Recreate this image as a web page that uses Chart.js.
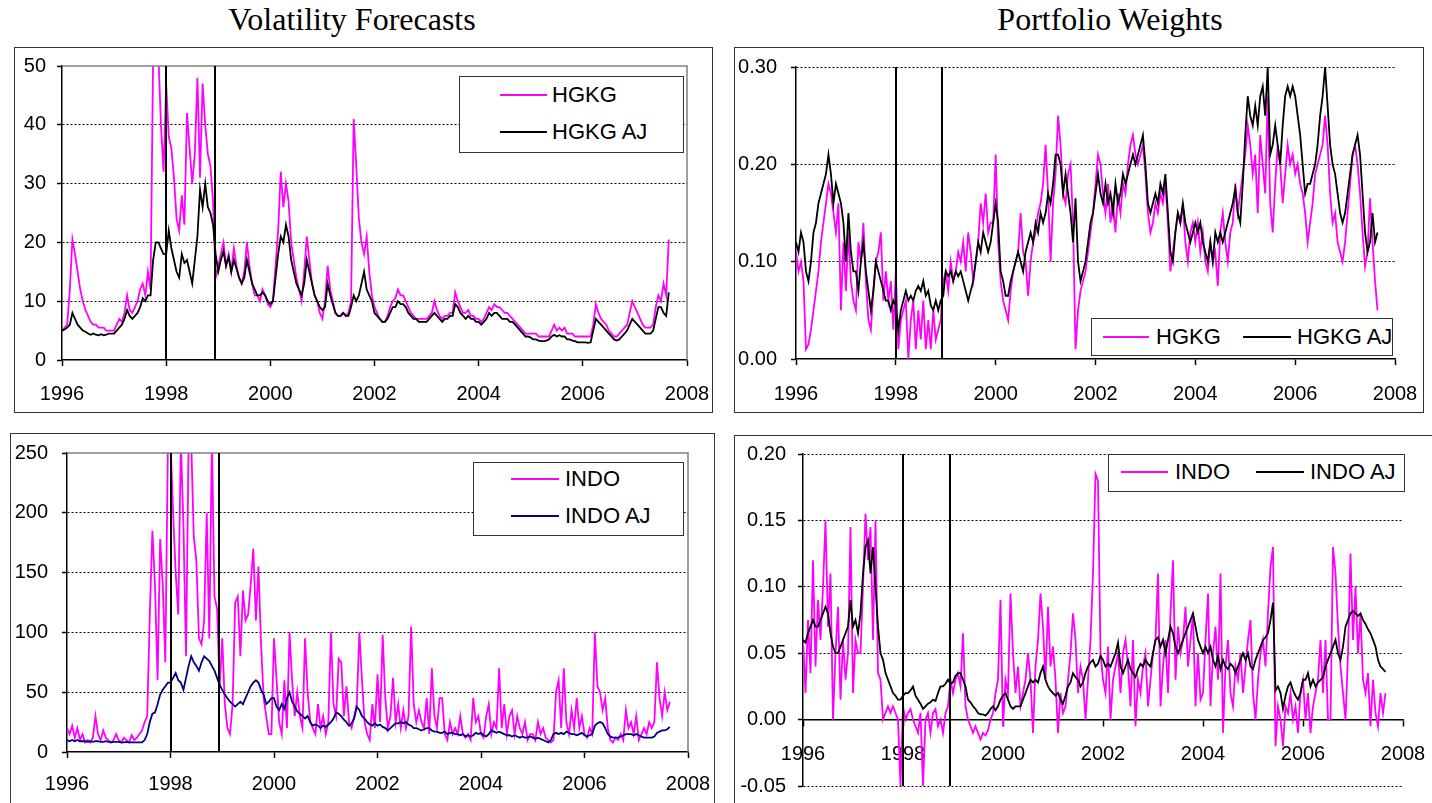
<!DOCTYPE html>
<html><head><meta charset="utf-8">
<script src="https://cdn.jsdelivr.net/npm/chart.js@4.4.0/dist/chart.umd.min.js"></script>
<style>
body{margin:0;width:1432px;height:803px;background:#fff;position:relative;overflow:hidden;font-family:"Liberation Sans",Arial,sans-serif}
.title{position:absolute;font-family:"Liberation Serif","Times New Roman",serif;font-size:32px;line-height:1;color:#000;top:3px;white-space:nowrap;transform:translateX(-50%)}
.box{position:absolute;border:1.5px solid #333;box-sizing:border-box}
canvas{position:absolute}
.legend{position:absolute;border:1.5px solid #333;background:#fff;box-sizing:border-box;z-index:5}
.item{position:absolute;font-size:22px;line-height:1;white-space:nowrap;color:#000;z-index:6}
.swatch{position:absolute;height:0;z-index:6}
</style></head>
<body>
<div class="title" style="left:352px">Volatility Forecasts</div>
<div class="title" style="left:1110px">Portfolio Weights</div>
<script>
// ---- data: one value every 0.05 year, starting 1996.00 ----
const start = 1996, step = 0.05;
const xTickYears = [1996, 1998, 2000, 2002, 2004, 2006, 2008];
const volHgkgTicks = [0, 10, 20, 30, 40, 50];
const wHgkgTicks = [0, 0.1, 0.2, 0.3];
const volIndoTicks = [0, 50, 100, 150, 200, 250];
const wIndoTicks = [-0.05, 0, 0.05, 0.1, 0.15, 0.2];
const breakDates = [1998.0, 1998.93];

const hgkgVol = [
 5,5.5,6,12,20.5,18,15,12,10,8.5,7.5,6.5,6,6,5.5,5.5,5.5,5,5,5,
 5,6,7,6.5,8,11,8.5,8,9,10,12,13,11,15,12,52,52,52,40,32,
 47,38,36,31,24,22,28,23,42,36,30,35,48,31,47,40,35,33,27,14,
 16,18,20,16,18,15,19,16,14,13,15,20,16,13,11,11,10,12,11,9.5,
 9,10,16,22,32,26,30,27,20,17,14,12,10,15,21,17,13,11,10,8,
 7,10,16,12,10,8,7.5,7.5,8,7.5,8,10,41,33,24,20,18,21,15,11,
 9,8,7,6.5,6.5,7.5,9,10,10.5,12,11,11,10,9,8,7.5,7,7,7,7,
 7,7.5,8,10,8.5,7.5,7,7.5,7.5,8,8,11.5,10,9,8,8,8.5,7.5,7.5,7,
 7,6.5,7,8,9,8.5,9.5,9,9,8.5,8,8,7.5,7,6.5,6,5.5,5,4.5,4.5,
 4.5,4.5,4.5,4,4,4,4,4,5,6,5,5.5,5,5.5,4.5,4.5,4.5,4,4,4,
 4,4,4,4,6,9.5,8,7,6.5,6,5,4.5,4,4,4.5,5,5.5,6,8,10,
 9,8,7,6,5.5,5.5,5.5,6,9,11,10,13,11,20.5
];
const hgkgAjVol = [
 5,5.2,5.5,6,8,7,6,5.5,5,4.8,4.5,4.3,4.5,4.3,4.2,4.4,4.2,4.3,4.5,4.5,
 4.5,5,5.5,6,7,8.5,7.5,7,7.5,8,9,10.5,10,11,11,17,20,20,19,18,
 18,22,19,17,15,14,18,16.5,17,15,13,17,21,29,26,30,26,25,23,18,
 15,17,18.5,16,17.5,15,17,15.5,14,13,14,17,15,13,12,11,11,11.5,11,10,
 9.5,10,14,18,21,20,23,21,17,15,13,12,11,13,17,15,13,11,10,9,
 8.5,9,13,11,9.5,8,7.5,7.5,8,7.5,7.5,9,11,10,11,13,15,12,11,10,
 8,7.5,7,6.5,6.5,7,8,9,9,10,9.5,9.5,9,8,7.5,7,7,6.5,6.5,6.5,
 6.5,7,7.5,8,7.5,7,6.5,7,7,7.5,7.5,9.5,9,8,7.5,7,7.5,7,7,6.5,
 6.5,6,6.5,7,8,7.5,8,8,7.5,7,7,7,6.5,6.5,6,5.5,5,4.5,4,4,
 3.8,3.5,3.5,3.3,3.2,3.2,3.3,3.5,4,4.3,4,4.2,4,4,3.5,3.5,3.3,3.2,3,3,
 3,3,2.9,3,5,7,6.5,6,5.5,5,4.5,4,3.5,3.3,3.5,4,4.5,5,6,7,
 6.5,6,5.5,5,4.5,4.5,4.5,5,7,9,9,8,7.5,11.5
];
const hgkgW = [
 .11,.09,.10,.08,.01,.015,.03,.05,.07,.09,.12,.14,.16,.18,.17,.15,.13,.16,.05,.12,
 .07,.13,.08,.06,.05,.12,.10,.14,.08,.04,.03,.07,.10,.11,.13,.06,.09,.06,.08,.03,
 .09,.01,.04,.05,.06,0,.04,.06,.01,.05,.02,.06,.01,.04,.01,.05,.02,.03,.04,.08,
 .09,.07,.10,.08,.09,.11,.10,.12,.09,.13,.11,.08,.10,.12,.16,.14,.17,.13,.14,.14,
 .21,.12,.08,.06,.05,.04,.07,.09,.10,.11,.15,.11,.10,.065,.10,.12,.13,.15,.16,.18,
 .22,.17,.10,.16,.19,.25,.22,.17,.16,.19,.20,.14,.01,.05,.07,.08,.09,.11,.13,.15,
 .18,.21,.20,.17,.15,.18,.14,.16,.13,.17,.15,.18,.17,.20,.22,.23,.21,.20,.21,.22,
 .19,.15,.13,.14,.16,.15,.17,.16,.18,.14,.09,.11,.13,.15,.14,.16,.12,.10,.13,.14,
 .12,.14,.11,.13,.10,.09,.12,.10,.11,.075,.13,.15,.12,.10,.13,.14,.18,.15,.17,.19,
 .21,.24,.22,.19,.21,.15,.23,.20,.17,.27,.16,.13,.18,.22,.20,.16,.19,.22,.20,.21,
 .19,.20,.18,.17,.15,.12,.14,.16,.19,.20,.21,.22,.25,.22,.17,.14,.15,.12,.11,.10,
 .12,.15,.18,.21,.22,.20,.17,.13,.095,.11,.165,.12,.08,.05
];
const hgkgAjW = [
 .12,.11,.13,.12,.09,.08,.10,.13,.14,.16,.17,.18,.19,.21,.19,.16,.18,.17,.16,.14,
 .10,.15,.11,.09,.09,.07,.10,.12,.09,.07,.05,.07,.10,.09,.08,.07,.06,.06,.05,.06,
 .055,.03,.05,.06,.07,.06,.065,.06,.07,.075,.07,.08,.065,.07,.055,.05,.06,.05,.06,.065,
 .09,.085,.09,.08,.09,.085,.09,.08,.07,.06,.07,.08,.10,.12,.11,.13,.12,.11,.12,.14,
 .16,.14,.09,.08,.065,.065,.08,.09,.10,.11,.10,.09,.11,.12,.13,.12,.14,.13,.15,.14,
 .15,.17,.16,.18,.21,.21,.20,.17,.19,.17,.15,.12,.165,.10,.08,.09,.10,.12,.14,.15,
 .17,.19,.17,.16,.18,.16,.17,.15,.18,.16,.17,.19,.18,.19,.20,.21,.20,.21,.22,.23,
 .20,.16,.15,.16,.17,.16,.18,.17,.19,.15,.11,.10,.13,.15,.14,.16,.14,.13,.12,.13,
 .14,.13,.14,.12,.11,.10,.12,.10,.13,.12,.13,.12,.13,.14,.15,.16,.175,.15,.14,.18,
 .23,.27,.25,.24,.26,.24,.27,.28,.25,.30,.21,.22,.24,.22,.20,.24,.27,.28,.27,.28,
 .27,.25,.23,.20,.17,.18,.18,.19,.20,.22,.25,.27,.30,.26,.22,.20,.19,.17,.15,.14,
 .15,.17,.19,.21,.22,.23,.21,.17,.13,.11,.12,.15,.12,.13
];
const indoVol = [
 20,15,22,12,20,10,15,8,10,8,12,30,15,10,18,12,10,8,10,15,
 10,8,12,10,8,14,10,12,15,18,25,30,115,185,140,60,178,140,75,260,
 260,200,150,115,260,190,80,260,260,180,160,95,90,110,200,95,260,130,120,55,
 95,40,20,15,40,125,130,80,135,110,115,140,170,110,155,90,45,30,15,15,
 95,60,25,15,60,20,100,60,30,50,30,20,95,50,25,20,15,40,20,30,
 15,25,100,40,30,78,75,30,55,25,20,30,40,100,60,25,15,10,40,20,
 65,25,98,45,20,30,62,25,40,20,35,20,30,105,40,25,35,25,20,45,
 15,70,30,20,45,45,15,10,25,15,20,15,30,15,12,15,10,45,25,30,
 15,12,30,40,15,25,20,70,20,40,15,30,35,15,30,20,15,25,10,15,
 15,10,25,15,20,12,10,8,10,50,60,20,70,25,15,35,20,45,20,30,
 15,12,20,15,100,55,50,35,45,20,10,8,12,10,15,10,35,20,25,15,
 30,10,15,20,15,25,20,25,75,45,30,50,35,42
];
const indoAjVol = [
 10,9,10,9,10,9,9,9,8.5,9,8.5,9,9,8.5,8.5,9,8.5,8,8.5,8.5,
 8.5,8,8,8.5,8,8,8,8,8,8,10,15,25,32,33,40,48,52,55,58,
 58,62,66,60,58,52,62,72,80,75,72,68,75,80,78,76,72,68,62,56,
 52,48,45,42,40,38,40,42,40,45,50,55,58,60,58,52,48,40,42,45,
 45,38,35,40,36,45,50,42,38,34,32,30,28,30,25,22,23,22,20,22,
 21,23,25,28,33,32,30,27,25,22,24,28,38,35,30,28,25,23,22,24,
 22,23,21,20,18,20,22,24,24,25,24,25,23,22,20,20,19,18,19,20,
 20,18,17,17,16,16,17,15,16,16,15,15,14,15,13,14,13,14,16,15,
 16,14,13,15,18,17,16,17,16,15,14,14,13,14,13,12,13,12,12,13,
 12,11,12,11,10,9,8,10,15,16,15,16,15,17,16,15,15,14,15,16,
 14,13,14,15,22,24,25,24,20,15,13,12,12,12,13,14,15,15,15,14,
 15,14,13,12,12,12,12,13,16,17,18,18,19,21
];
const indoW = [
 .06,.02,.075,.035,.12,.04,.09,.06,.10,.15,.07,.11,0,.05,.085,.015,.06,.03,.05,.145,
 .02,.06,.05,.05,.10,.155,.12,.145,.06,.15,.035,.03,0,.005,.01,.005,.01,.005,0,-.05,
 .01,0,.005,.008,0,-.005,-.01,.005,-.05,0,.005,-.01,.005,.008,-.005,0,-.01,.005,.01,.03,
 .02,.03,.035,.025,.065,.01,0,-.005,-.01,-.005,-.01,-.015,-.01,-.012,-.008,0,.005,.02,.03,.09,
 -.005,.03,.02,.095,.05,.02,.04,.01,.02,.03,.05,.03,-.01,.04,.06,.095,.07,.03,.085,.04,
 .055,.03,-.01,.02,.005,.01,.03,.05,.08,.06,.02,.04,.03,0,.03,.06,.11,.185,.18,.05,
 .03,.02,.055,0,.03,.04,.05,.02,.05,.06,.04,.01,.06,-.005,.03,.02,.04,.05,.01,.03,
 .05,.06,.11,.01,.04,.06,.02,.08,.12,.03,.07,.05,.06,.085,.04,.06,.08,.01,.05,.015,
 .02,.06,.095,.01,.05,.07,.03,.11,-.01,.04,.06,.02,.01,.04,.03,.05,.02,.04,.06,.075,
 .02,0,.03,.05,.06,.04,.08,.115,.13,-.02,.01,0,-.02,.01,.005,.02,0,.01,-.01,.02,
 .03,0,.02,-.01,.01,.02,.03,.06,.02,.06,0,0,.13,.11,.07,.04,.02,0,.05,.125,
 .06,.10,.05,.08,.03,.02,.035,-.005,.03,.005,-.005,.02,.005,.02
];
const indoAjW = [
 .06,.058,.065,.07,.075,.07,.07,.075,.08,.085,.08,.065,.055,.05,.05,.055,.06,.065,.07,.09,
 .07,.075,.065,.08,.11,.13,.135,.11,.13,.10,.07,.05,.045,.035,.03,.025,.02,.018,.015,.015,
 .018,.02,.02,.022,.025,.018,.015,.012,.008,.01,.012,.013,.015,.014,.02,.025,.025,.027,.03,.027,
 .028,.033,.035,.035,.03,.025,.015,.013,.01,.008,.005,.004,.004,.003,.005,.008,.01,.007,.01,.015,
 .018,.02,.015,.01,.008,.01,.01,.01,.015,.02,.025,.03,.028,.03,.028,.035,.04,.03,.025,.022,
 .02,.018,.02,.015,.012,.018,.025,.028,.035,.032,.03,.025,.028,.035,.04,.043,.045,.04,.042,.048,
 .045,.04,.042,.04,.045,.05,.058,.04,.035,.04,.045,.038,.035,.032,.038,.042,.04,.045,.042,.04,
 .05,.06,.062,.055,.06,.05,.06,.07,.065,.055,.05,.055,.06,.065,.07,.075,.08,.07,.06,.055,
 .05,.055,.05,.055,.045,.04,.048,.038,.045,.04,.038,.042,.04,.035,.04,.045,.05,.045,.05,.04,
 .038,.045,.05,.055,.06,.062,.065,.075,.088,.022,.025,.02,.008,.018,.025,.028,.022,.018,.015,.02,
 .03,.03,.035,.025,.03,.025,.028,.03,.032,.04,.045,.05,.055,.06,.05,.045,.055,.07,.075,.08,
 .082,.08,.078,.08,.075,.072,.068,.065,.06,.055,.045,.04,.038,.036
];

// ---- layout (page coordinates) ----
const MAGENTA = '#FF00FF', BLACK = '#000000', NAVY = '#000080';
const panels = [
 {box:[14,47,713,413], plot:[62,66,687,360], yTicks:volHgkgTicks, dec:0, hide:[0,50], frame:true, xAt0:false, xPad:16, yPad:11,
  series:[{label:'HGKG', data:hgkgVol, color:MAGENTA},{label:'HGKG AJ', data:hgkgAjVol, color:BLACK}],
  legend:{rect:[459,76,684,153], items:[[500,547,95,552],[500,547,132,552]]}},
 {box:[734,47,1424,413], plot:[796,67,1395,359], yTicks:wHgkgTicks, dec:2, hide:[0], frame:false, xAt0:false, xPad:17, yPad:14,
  series:[{label:'HGKG', data:hgkgW, color:MAGENTA},{label:'HGKG AJ', data:hgkgAjW, color:BLACK}],
  legend:{rect:[1091,318,1393,356], items:[[1103,1149,337,1156],[1243,1291,337,1297]]}},
 {box:[10,433,715,812], plot:[67,453,688,752], yTicks:volIndoTicks, dec:0, hide:[0,250], frame:true, xAt0:false, xPad:14, yPad:14,
  series:[{label:'INDO', data:indoVol, color:MAGENTA},{label:'INDO AJ', data:indoAjVol, color:NAVY}],
  legend:{rect:[473,462,684,536], items:[[511,559,479,565],[511,559,516,565]]}},
 {box:[734,435,1440,812], plot:[803,454,1403,786], yTicks:wIndoTicks, dec:2, hide:[0], frame:false, xAt0:true, xPad:17, yPad:12,
  series:[{label:'INDO', data:indoW, color:MAGENTA},{label:'INDO AJ', data:indoAjW, color:BLACK}],
  legend:{rect:[1108,454,1405,492], items:[[1121,1168,472,1175],[1256,1304,472,1310]]}}
];

function pts(arr){ return arr.map((v,i)=>({x: Math.round((start + i*step)*100)/100, y: v})); }

const overlay = {
  id:'overlay',
  afterDatasetsDraw(chart, args, opts){
    const {ctx, chartArea:a} = chart;
    const xs = chart.scales.x;
    ctx.save();
    if (opts.frame){
      ctx.strokeStyle = '#808080'; ctx.lineWidth = 1.5;
      ctx.beginPath(); ctx.moveTo(a.left, a.top); ctx.lineTo(a.right, a.top); ctx.lineTo(a.right, a.bottom); ctx.stroke();
    }
    ctx.strokeStyle = '#000'; ctx.lineWidth = 2;
    breakDates.forEach(d=>{
      const px = Math.round(xs.getPixelForValue(d));
      ctx.beginPath(); ctx.moveTo(px, a.top); ctx.lineTo(px, a.bottom); ctx.stroke();
    });
    ctx.restore();
  }
};

Chart.defaults.font.family = '"Liberation Sans", Arial, sans-serif';
Chart.defaults.color = '#000';

function px(el, l, t, w, h){ el.style.left = l+'px'; el.style.top = t+'px'; if (w!=null) el.style.width = w+'px'; if (h!=null) el.style.height = h+'px'; }

panels.forEach(p=>{
  const [bl,bt,br,bb] = p.box, [pl,pt,pr,pb] = p.plot;
  const box = document.createElement('div'); box.className = 'box'; px(box, bl, bt, br-bl, bb-bt); document.body.appendChild(box);
  const cv = document.createElement('canvas'); cv.width = br-bl; cv.height = bb-bt; px(cv, bl, bt, br-bl, bb-bt); document.body.appendChild(cv);
  const yMin = p.yTicks[0], yMax = p.yTicks[p.yTicks.length-1];
  const chart = new Chart(cv, {
    type:'line',
    data:{datasets: p.series.map((s,i)=>({label:s.label, data:pts(s.data), borderColor:s.color, backgroundColor:s.color,
      borderWidth:1.8, pointRadius:0, tension:0, fill:false, order: i===0 ? 1 : 0}))},
    options:{
      responsive:false, animation:false, devicePixelRatio:1,
      layout:{padding:{top:pt-bt, right:br-pr, left:0, bottom: p.xAt0 ? bb-pb : 0}, autoPadding:false},
      plugins:{legend:{display:false}, tooltip:{enabled:false}, overlay:{frame:p.frame}},
      scales:{
        x:{type:'linear', min:1996, max:2008, position: p.xAt0 ? {y:0} : 'bottom',
          afterBuildTicks: s=>{ s.ticks = xTickYears.map(v=>({value:v})); },
          afterFit: s=>{ s.height = p.xAt0 ? 0 : bb-pb; s.paddingLeft = 0; s.paddingRight = 0; },
          ticks:{autoSkip:false, maxRotation:0, padding:p.xPad, color:'#000', font:{size:20}, callback:v=>String(v)},
          grid:{drawOnChartArea:false, drawTicks:true, tickLength:6, tickColor:'#000', tickWidth:1.5, color:'#000'},
          border:{display:true, color:'#000', width:1.5}},
        y:{type:'linear', min:yMin, max:yMax,
          afterBuildTicks: s=>{ s.ticks = p.yTicks.map(v=>({value:v})); },
          afterFit: s=>{ s.width = pl-bl; s.paddingTop = 0; s.paddingBottom = 0; },
          ticks:{autoSkip:false, padding:p.yPad, color:'#000', font:{size:20}, callback:v=>Number(v).toFixed(p.dec)},
          grid:{color: c => (c.tick && p.hide.includes(c.tick.value)) ? 'rgba(0,0,0,0)' : '#000',
                lineWidth:1, tickLength:5, tickColor:'#000', tickWidth:1.5, tickBorderDash:[]},
          border:{display:true, color:'#000', width:1.5, dash:[2,2]}}
      }
    },
    plugins:[overlay]
  });
  // legend built from the chart's datasets
  const [ll,lt,lr,lb] = p.legend.rect;
  const lg = document.createElement('div'); lg.className = 'legend'; px(lg, ll, lt, lr-ll, lb-lt); document.body.appendChild(lg);
  chart.data.datasets.forEach((ds, i)=>{
    const [x1,x2,y,tx] = p.legend.items[i];
    const sw = document.createElement('div'); sw.className = 'swatch';
    sw.style.borderTop = '2.5px solid ' + ds.borderColor; px(sw, x1, y-1, x2-x1); document.body.appendChild(sw);
    const t = document.createElement('div'); t.className = 'item'; t.textContent = ds.label; px(t, tx, y-11); document.body.appendChild(t);
  });
});
</script>
</body></html>
